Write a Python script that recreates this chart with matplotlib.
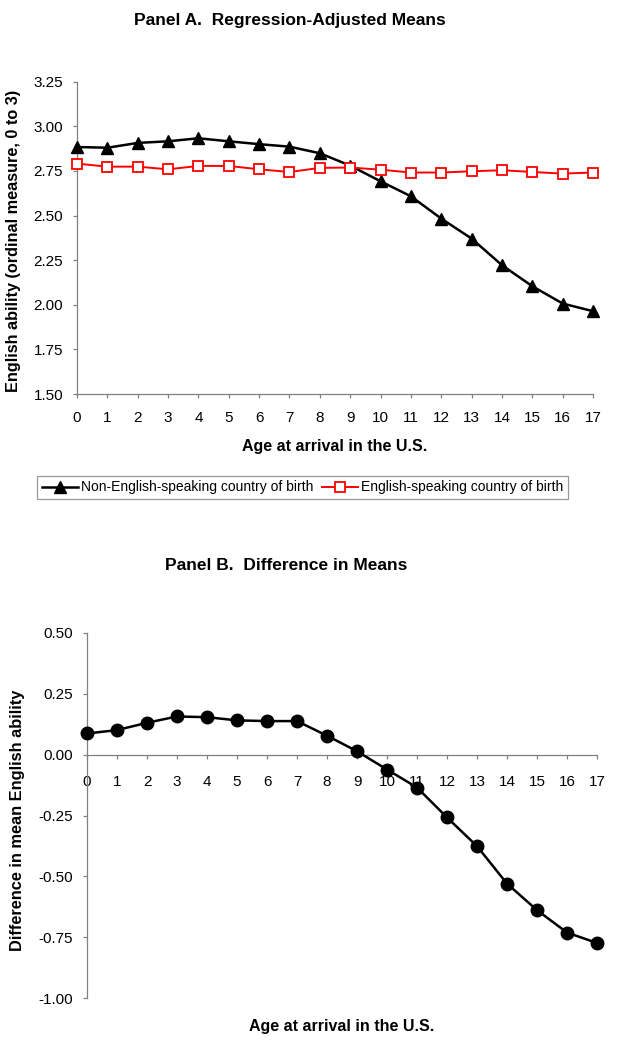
import matplotlib
matplotlib.use("Agg")
import matplotlib.pyplot as plt
import numpy as np

plt.rcParams['font.family'] = ['Liberation Sans', 'DejaVu Sans']

ages = list(range(18))
non_english = [2.884, 2.880, 2.907, 2.916, 2.933, 2.916, 2.900, 2.886, 2.849, 2.780,
               2.692, 2.608, 2.483, 2.371, 2.222, 2.104, 2.007, 1.964]
english = [2.791, 2.774, 2.774, 2.759, 2.778, 2.778, 2.759, 2.744, 2.767, 2.769,
           2.757, 2.741, 2.741, 2.748, 2.754, 2.744, 2.735, 2.741]
difference = [0.087, 0.101, 0.131, 0.157, 0.154, 0.141, 0.138, 0.138, 0.078, 0.014,
              -0.061, -0.135, -0.258, -0.376, -0.530, -0.639, -0.731, -0.774]

yticks_a = [1.50, 1.75, 2.00, 2.25, 2.50, 2.75, 3.00, 3.25]
yticks_b = [-1.00, -0.75, -0.50, -0.25, 0.00, 0.25, 0.50]

W, H = 632, 1049
fig = plt.figure(figsize=(W / 100, H / 100), dpi=100)

gray = '#808080'

def style(ax, xpad, ypad):
    for s in ['top', 'right']:
        ax.spines[s].set_visible(False)
    for s in ['left', 'bottom']:
        ax.spines[s].set_color(gray)
        ax.spines[s].set_linewidth(0.9)
    ax.tick_params(axis='both', direction='out', length=3, width=0.9, color=gray,
                   labelsize=11)
    ax.tick_params(axis='x', pad=xpad)
    ax.tick_params(axis='y', pad=ypad)

# Panel A
A_l, A_r, A_t, A_b = 77, 593, 81.7, 394
axA = fig.add_axes([A_l / W, 1 - A_b / H, (A_r - A_l) / W, (A_b - A_t) / H])
axA.plot(ages, non_english, color='black', lw=1.8, marker='^', ms=9,
         mfc='black', mec='black', clip_on=False, zorder=3,
         label='Non-English-speaking country of birth')
axA.plot(ages, english, color='#FF0000', lw=1.4, marker='s', ms=7.5,
         mfc='white', mec='#FF0000', mew=1.3, clip_on=False, zorder=4,
         label='English-speaking country of birth')
axA.set_xlim(0, 17)
axA.set_ylim(1.50, 3.25)
axA.set_xticks(ages)
axA.set_yticks(yticks_a)
axA.set_yticklabels([f'{v:.2f}' for v in yticks_a])
style(axA, 9, 7)
axA.set_xlabel('Age at arrival in the U.S.', fontsize=11.5, fontweight='bold', labelpad=10)
axA.set_ylabel('English ability (ordinal measure, 0 to 3)', fontsize=11.7, fontweight='bold')
axA.yaxis.set_label_coords((21 - A_l) / (A_r - A_l), (A_b - 240.5) / (A_b - A_t))

fig.text(290 / W, 1 - 20 / H, 'Panel A.  Regression-Adjusted Means', ha='center', va='center',
         fontsize=12.5, fontweight='bold')

leg = fig.legend(loc='center', bbox_to_anchor=(302.5 / W, 1 - 487.5 / H), ncol=2,
                 fontsize=10, frameon=True, fancybox=False, edgecolor=gray,
                 handlelength=2.6, handletextpad=0.2, columnspacing=0.6,
                 borderpad=0.35, borderaxespad=0)
leg.get_frame().set_linewidth(0.9)

# Panel B
B_l, B_r, B_t, B_b = 87, 597, 633, 998
axB = fig.add_axes([B_l / W, 1 - B_b / H, (B_r - B_l) / W, (B_b - B_t) / H])
axB.plot(ages, difference, color='black', lw=1.8, marker='o', ms=9,
         mfc='black', mec='black', clip_on=False, zorder=3)
axB.set_xlim(0, 17)
axB.set_ylim(-1.00, 0.50)
axB.set_xticks(ages)
axB.set_yticks(yticks_b)
axB.set_yticklabels([f'{v:.2f}' for v in yticks_b])
axB.spines['bottom'].set_position(('data', 0))
style(axB, 12, 7)
axB.set_ylabel('Difference in mean English ability', fontsize=11.8, fontweight='bold')
axB.yaxis.set_label_coords((25 - B_l) / (B_r - B_l), (B_b - 820) / (B_b - B_t))

fig.text(286 / W, 1 - 566 / H, 'Panel B.  Difference in Means', ha='center', va='center',
         fontsize=12.5, fontweight='bold')
fig.text(342 / W, 1 - 1027 / H, 'Age at arrival in the U.S.', ha='center', va='center',
         fontsize=11.5, fontweight='bold')

fig.savefig('out.png', dpi=100)
